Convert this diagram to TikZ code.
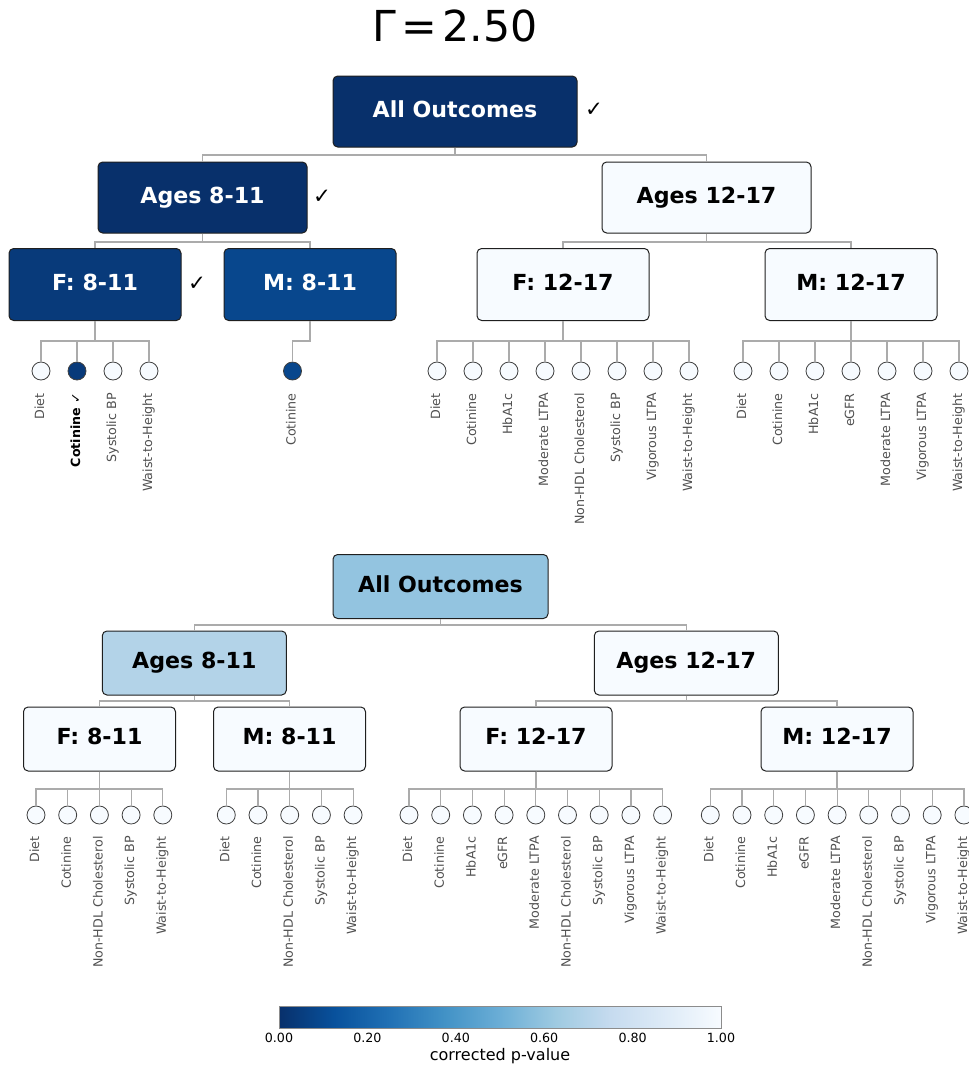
\documentclass[tikz,border=0pt]{standalone}
\usepackage{fontspec}
\setmainfont{DejaVu Sans}
\definecolor{navyA}{HTML}{08306B}
\definecolor{navyF}{HTML}{083A7A}
\definecolor{navyM}{HTML}{08478D}
\definecolor{paleB}{HTML}{F7FBFF}
\definecolor{midB}{HTML}{93C4E0}
\definecolor{lightB}{HTML}{B3D3E8}
\definecolor{connG}{HTML}{ABABAB}
\definecolor{labG}{HTML}{505050}
\definecolor{cb0}{HTML}{08306B}
\definecolor{cb1}{HTML}{08519C}
\definecolor{cb2}{HTML}{2171B5}
\definecolor{cb3}{HTML}{4292C6}
\definecolor{cb4}{HTML}{6BAED6}
\definecolor{cb5}{HTML}{9ECAE1}
\definecolor{cb6}{HTML}{C6DBEF}
\definecolor{cb7}{HTML}{DEEBF7}
\definecolor{cb8}{HTML}{F7FBFF}
% reversed Blues ramp; the visible part of a horizontal shading is 25bp..75bp
\pgfdeclarehorizontalshading{bluesrev}{100bp}{color(0bp)=(cb0); color(25bp)=(cb0); color(31.25bp)=(cb1); color(37.5bp)=(cb2); color(43.75bp)=(cb3); color(50bp)=(cb4); color(56.25bp)=(cb5); color(62.5bp)=(cb6); color(68.75bp)=(cb7); color(75bp)=(cb8); color(100bp)=(cb8)}
\tikzset{
  bx/.style n args={2}{draw=black!88, line width=0.75pt, rounded corners=3.5pt,
    minimum width=#1*0.75pt, minimum height=#2*0.75pt, inner sep=0pt,
    font=\fontsize{16.6pt}{18pt}\selectfont\bfseries, text height=12.1pt, text depth=3.8pt},
  conn/.style={draw=connG, line width=0.9pt},
  leaf/.style={circle, draw=black!75, line width=0.6pt, fill=paleB, minimum size=13.5pt, inner sep=0pt},
  leafon/.style={leaf, fill=navyF},
  lab/.style={rotate=90, anchor=east, inner sep=0pt, text=labG,
    font=\fontsize{9.5pt}{11pt}\selectfont, text height=6.9pt, text depth=2.2pt},
  tick/.style={font=\fontsize{9.5pt}{11pt}\selectfont, inner sep=0pt, anchor=base},
  chk/.style={font=\fontsize{16pt}{18pt}\selectfont, inner sep=0pt}
}
\begin{document}
\begin{tikzpicture}[x=0.75pt, y=-0.75pt]
\useasboundingbox (0,0) rectangle (969,1068);

% title
\node[anchor=base, inner sep=0pt, font=\fontsize{32pt}{36pt}\selectfont] (title) at (455,41) {Γ\kern0.12em=\kern0.12em2.50};

% ---------------- upper tree ----------------
\node[bx={244}{71}, fill=navyA, text=white] (u0) at (455,111.5) {All Outcomes};
\node[chk] (u0c) at (594,110) {✓};
\node[bx={209}{71}, fill=navyA, text=white] (u1) at (202.5,197.5) {Ages 8-11};
\node[chk] (u1c) at (322,197) {✓};
\node[bx={209}{71}, fill=paleB] (u2) at (706.5,197.5) {Ages 12-17};
\node[bx={172}{72}, fill=navyF, text=white] (u11) at (95,284.5) {F: 8-11};
\node[chk] (u11c) at (197,284) {✓};
\node[bx={172}{72}, fill=navyM, text=white] (u12) at (310,284.5) {M: 8-11};
\node[bx={172}{72}, fill=paleB] (u21) at (563,284.5) {F: 12-17};
\node[bx={172}{72}, fill=paleB] (u22) at (851,284.5) {M: 12-17};

\draw[conn] (u0.south) -- (u0.south |- 0,155) -| (u1.north);
\draw[conn] (u0.south |- 0,155) -| (u2.north);
\draw[conn] (u1.south) -- (u1.south |- 0,242) -| (u11.north);
\draw[conn] (u1.south |- 0,242) -| (u12.north);
\draw[conn] (u2.south) -- (u2.south |- 0,242) -| (u21.north);
\draw[conn] (u2.south |- 0,242) -| (u22.north);

% F: 8-11 outcomes
\node[leaf] (u11-1) at (41,371) {};
\node[leafon] (u11-2) at (77,371) {};
\node[leaf] (u11-3) at (113,371) {};
\node[leaf] (u11-4) at (149,371) {};
\node[lab] (u11l-1) at (41,393) {Diet};
\node[lab, text=black] (u11l-2) at (77,393) {\textbf{Cotinine} ✓};
\node[lab] (u11l-3) at (113,393) {Systolic BP};
\node[lab] (u11l-4) at (149,393) {Waist-to-Height};
\foreach \i in {1,...,4}{
  \draw[conn] (u11.south) -- (u11.south |- 0,341) -| (u11-\i.north);
}
% M: 8-11 outcome
\node[leafon, fill=navyM] (u12-1) at (292.5,371) {};
\node[lab] (u12l-1) at (292.5,393) {Cotinine};
\draw[conn] (u12.south) -- (u12.south |- 0,341) -| (u12-1.north);

% F: 12-17 outcomes
\foreach \lab [count=\i] in {Diet,Cotinine,HbA1c,Moderate LTPA,Non-HDL Cholesterol,Systolic BP,Vigorous LTPA,Waist-to-Height}{
  \node[leaf] (u21-\i) at ({437+36*(\i-1)},371) {};
  \node[lab] (u21l-\i) at (u21-\i.center |- 0,393) {\lab};
  \draw[conn] (u21.south) -- (u21.south |- 0,341) -| (u21-\i.north);
}
% M: 12-17 outcomes
\foreach \lab [count=\i] in {Diet,Cotinine,HbA1c,eGFR,Moderate LTPA,Vigorous LTPA,Waist-to-Height}{
  \node[leaf] (u22-\i) at ({743+36*(\i-1)},371) {};
  \node[lab] (u22l-\i) at (u22-\i.center |- 0,393) {\lab};
  \draw[conn] (u22.south) -- (u22.south |- 0,341) -| (u22-\i.north);
}

% ---------------- lower tree ----------------
\node[bx={215}{64}, fill=midB] (l0) at (440.5,586.5) {All Outcomes};
\node[bx={184}{64}, fill=lightB] (l1) at (194.3,663) {Ages 8-11};
\node[bx={184}{64}, fill=paleB] (l2) at (686.3,663) {Ages 12-17};
\node[bx={152}{64}, fill=paleB] (l11) at (99.5,739) {F: 8-11};
\node[bx={152}{64}, fill=paleB] (l12) at (289.5,739) {M: 8-11};
\node[bx={152}{64}, fill=paleB] (l21) at (536,739) {F: 12-17};
\node[bx={152}{64}, fill=paleB] (l22) at (837,739) {M: 12-17};

\draw[conn] (l0.south) -- (l0.south |- 0,625) -| (l1.north);
\draw[conn] (l0.south |- 0,625) -| (l2.north);
\draw[conn] (l1.south) -- (l1.south |- 0,701) -| (l11.north);
\draw[conn] (l1.south |- 0,701) -| (l12.north);
\draw[conn] (l2.south) -- (l2.south |- 0,701) -| (l21.north);
\draw[conn] (l2.south |- 0,701) -| (l22.north);

\foreach \grp/\xs in {l11/36, l12/226.3}{
  \foreach \lab [count=\i] in {Diet,Cotinine,Non-HDL Cholesterol,Systolic BP,Waist-to-Height}{
    \node[leaf] (\grp-\i) at ({\xs+31.7*(\i-1)},815) {};
    \node[lab] (\grp l-\i) at (\grp-\i.center |- 0,836) {\lab};
    \draw[conn] (\grp.south) -- (\grp.south |- 0,789) -| (\grp-\i.north);
  }
}
\foreach \grp/\xs in {l21/409, l22/710.3}{
  \foreach \lab [count=\i] in {Diet,Cotinine,HbA1c,eGFR,Moderate LTPA,Non-HDL Cholesterol,Systolic BP,Vigorous LTPA,Waist-to-Height}{
    \node[leaf] (\grp-\i) at ({\xs+31.7*(\i-1)},815) {};
    \node[lab] (\grp l-\i) at (\grp-\i.center |- 0,836) {\lab};
    \draw[conn] (\grp.south) -- (\grp.south |- 0,789) -| (\grp-\i.north);
  }
}

% ---------------- colour bar ----------------
\shade[shading=bluesrev] (279,1006) rectangle (721,1028);
\draw[draw=black!45, line width=0.6pt] (279,1006) rectangle (721,1028);
\foreach \v [count=\k from 0] in {0.00,0.20,0.40,0.60,0.80,1.00}{
  \node[tick] (tk\k) at ({279+88.4*\k},1042) {\v};
}
\node[font=\fontsize{12pt}{14pt}\selectfont, inner sep=0pt, anchor=base] (cblab) at (500,1060) {corrected p-value};
\end{tikzpicture}
\end{document}
